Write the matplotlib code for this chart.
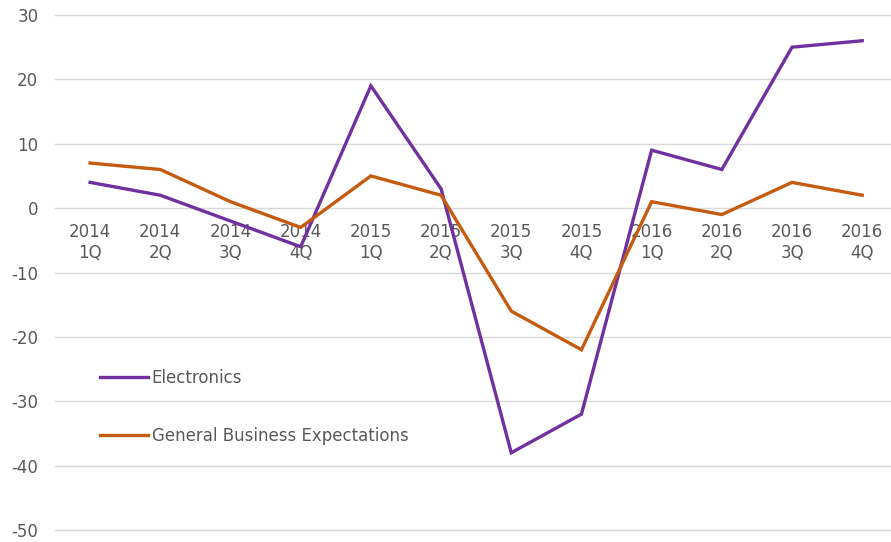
import matplotlib
matplotlib.use("Agg")
import matplotlib.pyplot as plt

categories = ["2014\n1Q", "2014\n2Q", "2014\n3Q", "2014\n4Q",
              "2015\n1Q", "2015\n2Q", "2015\n3Q", "2015\n4Q",
              "2016\n1Q", "2016\n2Q", "2016\n3Q", "2016\n4Q"]
electronics = [4, 2, -2, -6, 19, 3, -38, -32, 9, 6, 25, 26]
general = [7, 6, 1, -3, 5, 2, -16, -22, 1, -1, 4, 2]
yticks = [30, 20, 10, 0, -10, -20, -30, -40, -50]

TXT = "#595959"
plt.rcParams['font.family'] = ['DejaVu Sans']
plt.rcParams['axes.unicode_minus'] = False

fig = plt.figure(figsize=(8.91, 5.42), dpi=100)
ax = fig.add_axes([55/891, 12/542, 1 - 55/891, (530-15)/542])

x = list(range(len(categories)))
ax.plot(x, electronics, color="#7030A0", lw=2.4, label="Electronics", solid_joinstyle="miter")
ax.plot(x, general, color="#C55A11", lw=2.4, label="General Business Expectations", solid_joinstyle="miter")

ax.set_xlim(-0.5, 11.41)
ax.set_ylim(-50, 30)
ax.set_yticks(yticks)
ax.set_xticks(x, categories)
ax.tick_params(axis='y', labelsize=12, labelcolor=TXT, length=0, pad=12)
ax.tick_params(axis='x', labelsize=12, labelcolor=TXT, length=0, pad=10.5)
for lab in ax.get_xticklabels():
    lab.set_linespacing(1.2)
ax.spines['bottom'].set_position(('data', 0))
for s in ax.spines.values():
    s.set_visible(False)
ax.grid(axis='y', color="#d9d9d9", lw=1)
ax.set_axisbelow(True)
for gl in ax.get_ygridlines():
    gl.set_clip_on(False)

leg = ax.legend(loc='upper left', bbox_to_anchor=(45/836, (515-(369-15))/515),
                frameon=False, fontsize=12, labelcolor=TXT,
                handlelength=2.9, handletextpad=0.2, labelspacing=2.4, borderpad=0, borderaxespad=0)

fig.savefig("out.png", dpi=100)
